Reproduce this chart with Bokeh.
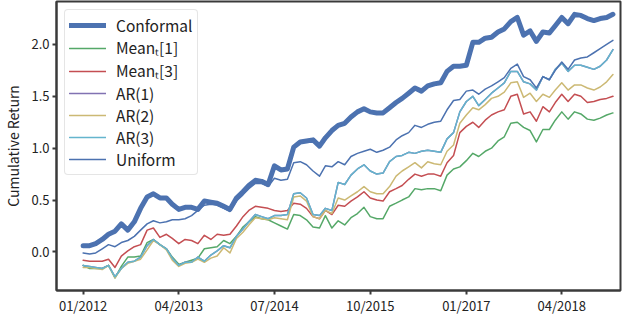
import pandas as pd
from bokeh.plotting import figure
from bokeh.models import Range1d, FixedTicker, DatetimeTickFormatter, NumeralTickFormatter
from bokeh.embed import file_html
from bokeh.resources import INLINE

# monthly observations, Jan 2012 .. Dec 2018
months = pd.date_range("2012-01-01", "2018-12-01", freq="MS")

conformal = [0.06, 0.06, 0.08, 0.12, 0.17, 0.20, 0.27, 0.21, 0.29, 0.42,
             0.53, 0.56, 0.52, 0.52, 0.46, 0.41, 0.43, 0.43, 0.41, 0.49,
             0.48, 0.47, 0.44, 0.41, 0.52, 0.58, 0.64, 0.69, 0.68, 0.65,
             0.83, 0.79, 0.80, 1.01, 1.06, 1.07, 1.08, 1.02, 1.10, 1.17,
             1.22, 1.24, 1.30, 1.35, 1.38, 1.35, 1.34, 1.34, 1.39, 1.44,
             1.48, 1.53, 1.58, 1.55, 1.60, 1.62, 1.63, 1.74, 1.79, 1.79,
             1.80, 2.02, 2.02, 2.06, 2.07, 2.12, 2.15, 2.22, 2.26, 2.09,
             2.13, 2.03, 2.12, 2.11, 2.18, 2.26, 2.20, 2.29, 2.28, 2.25,
             2.23, 2.25, 2.26, 2.29]

mean1 = [-0.13, -0.16, -0.16, -0.16, -0.13, -0.25, -0.14, -0.05, -0.05, -0.04,
         0.09, 0.12, 0.07, 0.03, -0.05, -0.12, -0.10, -0.08, -0.06, 0.03,
         0.04, 0.05, 0.11, 0.08, 0.15, 0.24, 0.29, 0.34, 0.32, 0.31,
         0.28, 0.25, 0.22, 0.36, 0.35, 0.31, 0.24, 0.23, 0.35, 0.23,
         0.30, 0.26, 0.33, 0.37, 0.43, 0.34, 0.32, 0.32, 0.44, 0.47,
         0.50, 0.53, 0.61, 0.60, 0.61, 0.61, 0.59, 0.74, 0.80, 0.82,
         0.88, 0.95, 0.92, 0.97, 1.00, 1.07, 1.11, 1.24, 1.25, 1.20,
         1.17, 1.06, 1.18, 1.18, 1.27, 1.35, 1.28, 1.35, 1.33, 1.28,
         1.27, 1.29, 1.32, 1.34]

mean3 = [-0.08, -0.09, -0.09, -0.09, -0.07, -0.15, -0.04, 0.01, 0.05, 0.07,
         0.21, 0.23, 0.14, 0.17, 0.13, 0.08, 0.12, 0.11, 0.08, 0.16,
         0.12, 0.17, 0.16, 0.17, 0.25, 0.34, 0.40, 0.44, 0.43, 0.42,
         0.40, 0.39, 0.40, 0.47, 0.46, 0.42, 0.34, 0.32, 0.40, 0.36,
         0.45, 0.44, 0.49, 0.53, 0.58, 0.52, 0.50, 0.49, 0.58, 0.61,
         0.64, 0.70, 0.75, 0.73, 0.75, 0.75, 0.73, 0.86, 0.93, 1.15,
         1.21, 1.25, 1.20, 1.27, 1.32, 1.35, 1.37, 1.50, 1.52, 1.33,
         1.35, 1.26, 1.40, 1.35, 1.44, 1.52, 1.45, 1.52, 1.50, 1.44,
         1.45, 1.47, 1.48, 1.50]

ar1 = [-0.13, -0.14, -0.15, -0.16, -0.13, -0.24, -0.16, -0.10, -0.09, -0.05,
       0.06, 0.12, 0.07, 0.03, -0.06, -0.13, -0.10, -0.10, -0.05, -0.09,
       -0.03, 0.01, 0.06, 0.04, 0.15, 0.22, 0.29, 0.36, 0.34, 0.32,
       0.35, 0.35, 0.36, 0.56, 0.57, 0.52, 0.36, 0.35, 0.42, 0.40,
       0.67, 0.65, 0.74, 0.80, 0.84, 0.78, 0.75, 0.76, 0.87, 0.92,
       0.93, 0.96, 0.95, 0.97, 0.98, 0.97, 0.96, 1.09, 1.15, 1.35,
       1.45, 1.50, 1.41, 1.47, 1.53, 1.58, 1.63, 1.74, 1.74, 1.64,
       1.62, 1.56, 1.69, 1.66, 1.76, 1.82, 1.74, 1.80, 1.80, 1.78,
       1.76, 1.79, 1.85, 1.95]

ar2 = [-0.15, -0.15, -0.16, -0.17, -0.13, -0.25, -0.16, -0.11, -0.09, -0.07,
       0.02, 0.11, 0.07, 0.02, -0.08, -0.14, -0.11, -0.10, -0.07, -0.10,
       -0.06, -0.04, 0.04, -0.01, 0.13, 0.19, 0.26, 0.33, 0.32, 0.31,
       0.33, 0.32, 0.31, 0.53, 0.54, 0.49, 0.34, 0.32, 0.40, 0.37,
       0.52, 0.50, 0.54, 0.58, 0.63, 0.58, 0.56, 0.56, 0.63, 0.73,
       0.78, 0.82, 0.86, 0.81, 0.87, 0.85, 0.84, 0.97, 1.03, 1.24,
       1.32, 1.39, 1.37, 1.42, 1.48, 1.50, 1.54, 1.63, 1.64, 1.49,
       1.53, 1.45, 1.52, 1.49, 1.56, 1.63, 1.56, 1.61, 1.61, 1.58,
       1.56, 1.59, 1.64, 1.71]

ar3 = [-0.13, -0.14, -0.15, -0.16, -0.13, -0.24, -0.16, -0.10, -0.09, -0.05,
       0.06, 0.12, 0.07, 0.03, -0.06, -0.13, -0.10, -0.10, -0.05, -0.09,
       -0.03, 0.01, 0.06, 0.04, 0.15, 0.22, 0.29, 0.36, 0.34, 0.32,
       0.35, 0.35, 0.36, 0.56, 0.57, 0.52, 0.36, 0.35, 0.42, 0.40,
       0.67, 0.65, 0.74, 0.80, 0.84, 0.78, 0.75, 0.76, 0.87, 0.92,
       0.93, 0.96, 0.95, 0.97, 0.98, 0.97, 0.96, 1.09, 1.15, 1.35,
       1.45, 1.50, 1.41, 1.47, 1.53, 1.58, 1.63, 1.74, 1.74, 1.64,
       1.62, 1.56, 1.69, 1.66, 1.76, 1.82, 1.74, 1.80, 1.80, 1.78,
       1.76, 1.79, 1.85, 1.95]

uniform = [-0.01, -0.02, -0.01, 0.03, 0.07, 0.05, 0.09, 0.11, 0.15, 0.21,
           0.27, 0.30, 0.28, 0.29, 0.31, 0.31, 0.32, 0.35, 0.40, 0.45,
           0.46, 0.45, 0.42, 0.39, 0.49, 0.55, 0.61, 0.66, 0.66, 0.63,
           0.71, 0.69, 0.70, 0.86, 0.87, 0.84, 0.78, 0.73, 0.83, 0.82,
           0.87, 0.84, 0.92, 0.95, 0.97, 0.99, 0.96, 0.98, 1.01, 1.08,
           1.12, 1.15, 1.22, 1.20, 1.23, 1.25, 1.26, 1.37, 1.46, 1.47,
           1.55, 1.56, 1.52, 1.57, 1.60, 1.64, 1.68, 1.77, 1.81, 1.69,
           1.66, 1.58, 1.69, 1.66, 1.75, 1.83, 1.76, 1.85, 1.87, 1.88,
           1.92, 1.96, 2.00, 2.04]

series_names = ["Conformal", "Mean\u209c[1]", "Mean\u209c[3]", "AR(1)", "AR(2)", "AR(3)", "Uniform"]
series_values = [conformal, mean1, mean3, ar1, ar2, ar3, uniform]
series_colors = ["#4C72B0", "#55A868", "#C44E52", "#8172B2", "#CCB974", "#64B5CD", "#4C72B0"]
series_widths = [5, 1.5, 1.5, 1.5, 1.5, 1.5, 1.5]

tick_labels = ["01/2012", "04/2013", "07/2014", "10/2015", "01/2017", "04/2018"]
y_ticks = [0.0, 0.5, 1.0, 1.5, 2.0]

FONT = "Noto Sans CJK JP"
INK = "#3a3a3a"

x_start = pd.Timestamp("2011-08-27")
x_end = pd.Timestamp("2019-01-06")

p = figure(width=624, height=317, x_axis_type="datetime",
           x_range=Range1d(x_start, x_end), y_range=Range1d(-0.372, 2.414),
           output_backend="svg", toolbar_location=None,
           min_border_left=48, min_border_right=4, min_border_top=1, min_border_bottom=23)

for name, vals, col, w in zip(series_names, series_values, series_colors, series_widths):
    p.line(months, vals, line_color=col, line_width=w, line_join="round",
           line_cap="round", legend_label=name)

p.xgrid.visible = False
p.ygrid.visible = False
p.outline_line_color = INK
p.outline_line_width = 2

tick_ms = [pd.to_datetime(t, format="%m/%Y").value // 10**6 for t in tick_labels]
p.xaxis.ticker = FixedTicker(ticks=tick_ms)
p.xaxis.formatter = DatetimeTickFormatter(days="%m/%Y", months="%m/%Y", years="%m/%Y")
p.yaxis.ticker = FixedTicker(ticks=y_ticks)
p.yaxis.formatter = NumeralTickFormatter(format="0.0")
p.yaxis.axis_label = "Cumulative Return"

p.axis.axis_line_color = INK
p.axis.axis_line_width = 2
p.axis.major_tick_line_color = INK
p.axis.major_tick_line_width = 2
p.axis.major_tick_out = 4
p.axis.major_tick_in = 0
p.axis.minor_tick_line_color = None
p.axis.major_label_text_font = FONT
p.axis.major_label_text_font_size = "13px"
p.axis.major_label_text_color = "#222222"
p.axis.axis_label_text_font = FONT
p.axis.axis_label_text_font_size = "14px"
p.axis.axis_label_text_font_style = "normal"
p.axis.axis_label_text_color = "#222222"

p.yaxis.major_label_standoff = 3
p.yaxis.axis_label_standoff = 5
p.xaxis.major_label_standoff = 1

lg = p.legend[0]
lg.location = "top_left"
lg.margin = 8
lg.padding = 4
lg.spacing = 0
lg.glyph_width = 37
lg.glyph_height = 22
lg.label_height = 22
lg.label_standoff = 10
lg.label_text_font = FONT
lg.label_text_font_size = "15.5px"
lg.label_text_color = "#222222"
lg.border_line_color = "#cccccc"
lg.border_line_width = 1
lg.border_radius = 4
lg.background_fill_alpha = 0.8

open("out.html", "w").write(file_html(p, INLINE))
